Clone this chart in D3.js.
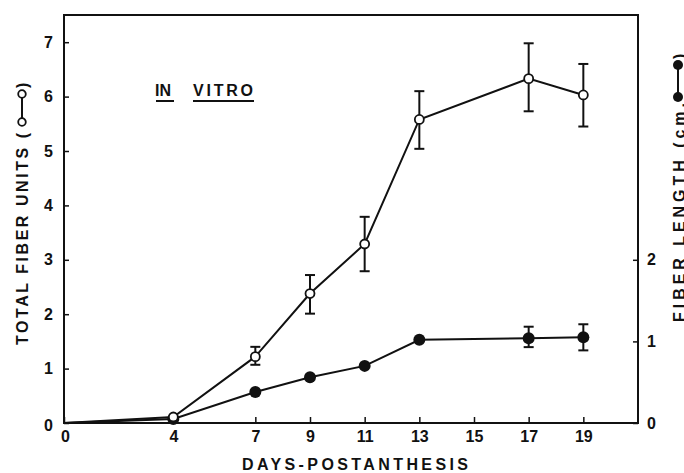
<!DOCTYPE html>
<html>
<head>
<meta charset="utf-8">
<script src="https://cdn.jsdelivr.net/npm/d3@7"></script>
<style>
  body { margin: 0; background: #fff; }
  svg text { font-family: "Liberation Sans", Arial, sans-serif; font-weight: bold; fill: #111; }
</style>
</head>
<body>
<svg id="chart" width="684" height="473"></svg>
<script>
// days postanthesis
const days = [0, 4, 7, 9, 11, 13, 17, 19];
// total fiber units (open circles, left axis)
const fiberUnits = [0, 0.11, 1.22, 2.38, 3.29, 5.58, 6.33, 6.03];
const unitsLow  = [null, null, 1.07, 2.01, 2.79, 5.04, 5.73, 5.45];
const unitsHigh = [null, null, 1.40, 2.72, 3.79, 6.10, 6.98, 6.60];
// fiber length in cm (filled circles, right axis)
const fiberLength = [0, 0.05, 0.38, 0.56, 0.70, 1.02, 1.04, 1.05];
const lengthLow  = [null, null, null, null, null, null, 0.93, 0.89];
const lengthHigh = [null, null, null, null, null, null, 1.18, 1.21];

const xTicks = [0, 4, 7, 9, 11, 13, 15, 17, 19];
const yLeftTicks = [0, 1, 2, 3, 4, 5, 6, 7];
const yRightTicks = [0, 1, 2];

const svg = d3.select("#chart");
const plotL = 64, plotR = 638, plotT = 15, plotB = 423;

const x = d3.scaleLinear().domain([0, 21]).range([plotL, plotR]);
const yL = d3.scaleLinear().domain([0, 7.5]).range([plotB, plotT]);
const yR = d3.scaleLinear().domain([0, 5]).range([plotB, plotT]);

const ink = "#111";

// axes
const xAxis = svg.append("g").attr("transform", `translate(0,${plotB})`)
  .call(d3.axisBottom(x).tickValues(xTicks).tickFormat(d3.format("d"))
    .tickSizeInner(-6).tickSizeOuter(0).tickPadding(8));
const lAxis = svg.append("g").attr("transform", `translate(${plotL},0)`)
  .call(d3.axisLeft(yL).tickValues(yLeftTicks).tickFormat(d3.format("d"))
    .tickSizeInner(-5).tickSizeOuter(0).tickPadding(11));
const rAxis = svg.append("g").attr("transform", `translate(${plotR},0)`)
  .call(d3.axisRight(yR).tickValues(yRightTicks).tickFormat(d3.format("d"))
    .tickSizeInner(-5).tickSizeOuter(0).tickPadding(9));

[xAxis, lAxis, rAxis].forEach(a => {
  a.select(".domain").remove();
  a.selectAll("line").attr("stroke", ink).attr("stroke-width", 1.5);
  a.selectAll("text").style("font-size", "16px").attr("fill", ink);
});
lAxis.selectAll("text").filter(d => d === 0).attr("dy", "0.45em");
xAxis.selectAll("text").filter(d => d === 0).attr("dx", "1px");

// frame
svg.append("rect")
  .attr("x", plotL).attr("y", plotT)
  .attr("width", plotR - plotL).attr("height", plotB - plotT)
  .attr("fill", "none").attr("stroke", ink).attr("stroke-width", 2);

// lines
const unitsData = days.map((d, i) => ({ day: d, v: fiberUnits[i], lo: unitsLow[i], hi: unitsHigh[i] }));
const lengthData = days.map((d, i) => ({ day: d, v: fiberLength[i], lo: lengthLow[i], hi: lengthHigh[i] }));

svg.append("path").datum(lengthData)
  .attr("d", d3.line().x(d => x(d.day)).y(d => yR(d.v)))
  .attr("fill", "none").attr("stroke", ink).attr("stroke-width", 2);
svg.append("path").datum(unitsData)
  .attr("d", d3.line().x(d => x(d.day)).y(d => yL(d.v)))
  .attr("fill", "none").attr("stroke", ink).attr("stroke-width", 2);

// error bars
function errorBars(data, y) {
  const g = svg.append("g").attr("stroke", ink).attr("stroke-width", 2);
  const withErr = data.filter(d => d.lo != null);
  g.selectAll("line.v").data(withErr).join("line").attr("class", "v")
    .attr("x1", d => x(d.day)).attr("x2", d => x(d.day))
    .attr("y1", d => y(d.lo)).attr("y2", d => y(d.hi));
  ["lo", "hi"].forEach(k => {
    g.selectAll("line.c" + k).data(withErr).join("line").attr("class", "c" + k)
      .attr("x1", d => x(d.day) - 5).attr("x2", d => x(d.day) + 5)
      .attr("y1", d => y(d[k])).attr("y2", d => y(d[k]));
  });
}
errorBars(unitsData, yL);
errorBars(lengthData, yR);

// markers
svg.append("g").selectAll("circle").data(lengthData.filter(d => d.day > 0)).join("circle")
  .attr("cx", d => x(d.day)).attr("cy", d => yR(d.v)).attr("r", 6)
  .attr("fill", ink);
svg.append("g").selectAll("circle").data(unitsData.filter(d => d.day > 0)).join("circle")
  .attr("cx", d => x(d.day)).attr("cy", d => yL(d.v)).attr("r", 4.5)
  .attr("fill", "#fff").attr("stroke", ink).attr("stroke-width", 1.8);

// x label
svg.append("text").attr("x", 242).attr("y", 470)
  .attr("textLength", 226).attr("lengthAdjust", "spacing")
  .style("font-size", "16px").text("DAYS-POSTANTHESIS");

// in vitro label
const iv = svg.append("g");
iv.append("text").attr("x", 155).attr("y", 96).style("font-size", "16px").text("IN");
iv.append("text").attr("x", 193).attr("y", 96)
  .attr("textLength", 60).attr("lengthAdjust", "spacing")
  .style("font-size", "16px").text("VITRO");
iv.append("line").attr("x1", 156).attr("x2", 174).attr("y1", 101).attr("y2", 101)
  .attr("stroke", ink).attr("stroke-width", 2);
iv.append("line").attr("x1", 193).attr("x2", 254).attr("y1", 101).attr("y2", 101)
  .attr("stroke", ink).attr("stroke-width", 2);

// left axis title (rotated), with legend symbol
const lt = svg.append("g").attr("transform", "translate(28,345) rotate(-90)");
lt.append("text").attr("x", 0).attr("y", 0)
  .attr("textLength", 212).attr("lengthAdjust", "spacing")
  .style("font-size", "16px").text("TOTAL FIBER UNITS (");
lt.append("line").attr("x1", 223).attr("x2", 251).attr("y1", -6).attr("y2", -6)
  .attr("stroke", ink).attr("stroke-width", 2);
lt.selectAll("circle").data([223, 251]).join("circle")
  .attr("cx", d => d).attr("cy", -6).attr("r", 3.8)
  .attr("fill", "#fff").attr("stroke", ink).attr("stroke-width", 1.8);
lt.append("text").attr("x", 257).attr("y", 0).style("font-size", "16px").text(")");

// right axis title (rotated, partly cut off at the edge as in the original)
const rt = svg.append("g").attr("transform", "translate(685,322) rotate(-90)");
rt.append("text").attr("x", 0).attr("y", 0)
  .attr("textLength", 219).attr("lengthAdjust", "spacing")
  .style("font-size", "16px").text("FIBER LENGTH (cm.");
rt.append("line").attr("x1", 225).attr("x2", 257).attr("y1", -7).attr("y2", -7)
  .attr("stroke", ink).attr("stroke-width", 2);
rt.selectAll("circle").data([225, 257]).join("circle")
  .attr("cx", d => d).attr("cy", -7).attr("r", 5)
  .attr("fill", ink);
rt.append("text").attr("x", 263).attr("y", 0).style("font-size", "16px").text(")");
</script>
</body>
</html>
